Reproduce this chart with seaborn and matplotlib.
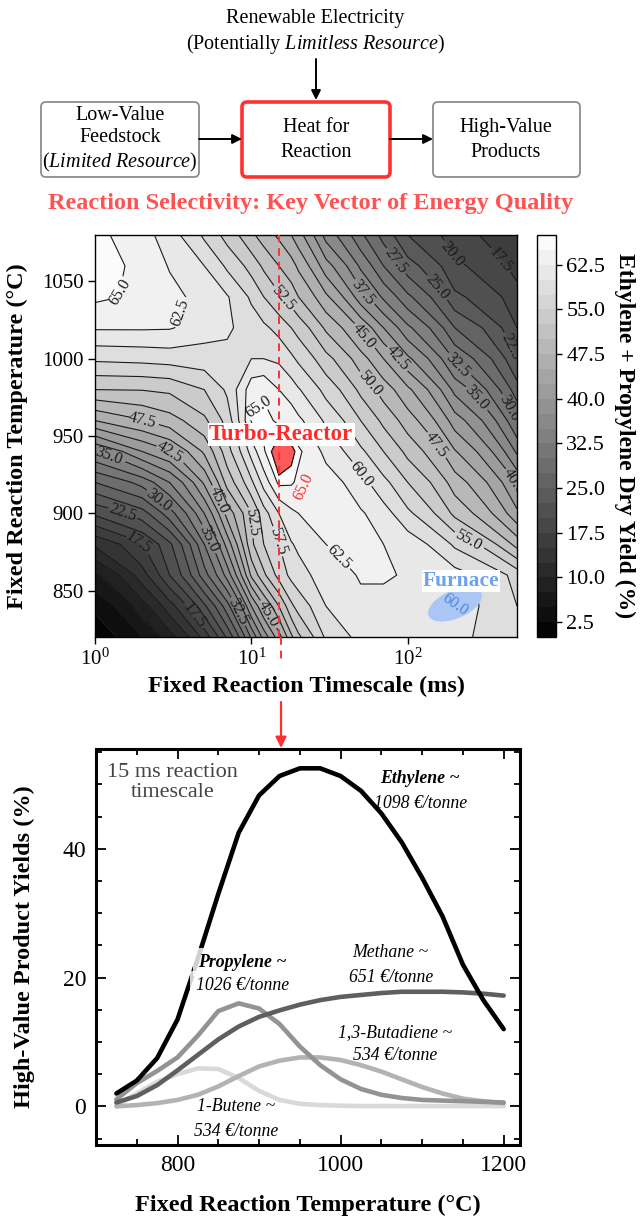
import numpy as np
import pandas as pd
import matplotlib
matplotlib.use("Agg")
import matplotlib.pyplot as plt
import seaborn as sns
from matplotlib.patches import FancyBboxPatch, Ellipse
from matplotlib.ticker import MultipleLocator, FixedLocator, NullLocator

# ---------------- data: contour map (ethylene + propylene dry yield, %) ----------------
timescale_ms = [1, 2, 3, 5, 7, 10, 12, 15, 18, 20, 30, 50, 70, 100, 200, 500]
temperature_c = [820, 840, 860, 880, 900, 920, 940, 960, 980, 1000, 1020, 1040, 1060, 1080]
yield_820 = [1.0, 5.0, 9.0, 16.0, 23.0, 33.0, 38.5, 44.0, 49.5, 52.0, 58.0, 61.0, 61.5, 61.5, 60.5, 58.0]
yield_840 = [3.0, 9.0, 14.0, 22.0, 29.0, 40.0, 45.0, 50.0, 54.5, 56.0, 60.0, 62.0, 62.0, 62.0, 61.0, 57.5]
yield_860 = [7.0, 14.0, 20.0, 29.0, 36.0, 48.0, 52.0, 56.0, 58.2, 59.0, 61.5, 62.7, 62.7, 62.3, 61.0, 56.5]
yield_880 = [13.0, 17.5, 22.0, 32.5, 41.0, 52.0, 55.0, 57.5, 59.8, 60.5, 62.5, 62.8, 62.5, 61.5, 57.0, 49.0]
yield_900 = [20.5, 24.0, 29.0, 37.5, 46.0, 52.5, 56.5, 60.0, 62.0, 62.5, 63.5, 62.8, 61.0, 58.0, 51.8, 43.0]
yield_920 = [27.5, 31.0, 35.0, 43.0, 51.0, 57.0, 61.0, 65.6, 65.3, 64.5, 63.8, 60.8, 58.2, 55.0, 48.7, 39.5]
yield_940 = [35.0, 40.0, 42.5, 48.0, 54.0, 61.0, 64.8, 67.3, 66.6, 65.4, 61.7, 58.0, 55.0, 51.7, 45.2, 34.5]
yield_960 = [45.0, 47.5, 49.0, 52.0, 56.0, 65.2, 65.6, 64.6, 64.0, 63.0, 59.5, 55.0, 51.8, 48.7, 41.2, 30.0]
yield_980 = [52.5, 52.6, 53.0, 55.0, 58.0, 64.0, 64.6, 62.5, 61.2, 60.2, 56.6, 51.8, 48.8, 45.5, 36.7, 26.0]
yield_1000 = [58.0, 58.3, 58.6, 59.0, 59.5, 60.0, 60.0, 59.5, 58.0, 57.0, 53.3, 48.5, 45.0, 40.5, 32.0, 22.5]
yield_1020 = [62.8, 62.8, 62.7, 61.0, 60.3, 59.0, 58.0, 56.6, 55.0, 54.0, 49.5, 44.5, 40.0, 35.5, 27.5, 20.0]
yield_1040 = [65.5, 64.3, 63.3, 61.3, 60.2, 57.0, 55.0, 52.8, 51.3, 50.0, 45.5, 38.5, 34.5, 30.5, 23.0, 18.5]
yield_1060 = [66.0, 64.2, 62.3, 60.0, 57.0, 54.0, 52.0, 50.0, 48.5, 47.0, 41.0, 34.5, 30.0, 26.0, 20.5, 16.5]
yield_1080 = [65.5, 63.5, 61.0, 57.0, 54.0, 50.5, 48.8, 47.0, 45.0, 43.5, 36.5, 30.5, 26.5, 22.5, 18.5, 15.0]
colorbar_ticks = [2.5, 10.0, 17.5, 25.0, 32.5, 40.0, 47.5, 55.0, 62.5]
selected_timescale_ms = 15

# ---------------- data: product yields at 15 ms ----------------
temps_15ms = [725, 750, 775, 800, 825, 850, 875, 900, 925, 950, 975, 1000,
              1025, 1050, 1075, 1100, 1125, 1150, 1175, 1200]
ethylene = [2.0, 4.0, 7.5, 13.5, 23.0, 33.0, 42.5, 48.3, 51.3, 52.5, 52.5, 51.3,
            49.0, 45.5, 41.0, 35.5, 29.5, 22.0, 16.5, 12.0]
propylene = [1.1, 3.6, 5.5, 7.6, 11.0, 14.8, 16.0, 15.2, 12.8, 9.3, 6.4, 4.2,
             2.7, 1.8, 1.3, 1.0, 0.9, 0.8, 0.7, 0.6]
methane = [0.6, 1.6, 3.3, 5.6, 8.0, 10.4, 12.4, 13.9, 14.9, 15.8, 16.5, 17.0,
           17.3, 17.6, 17.8, 17.8, 17.8, 17.7, 17.5, 17.2]
butadiene = [0.0, 0.2, 0.5, 1.0, 1.8, 3.1, 4.7, 6.2, 7.1, 7.6, 7.6, 7.2,
             6.4, 5.4, 4.2, 3.0, 2.0, 1.2, 0.8, 0.5]
butene = [0.2, 2.0, 3.8, 5.0, 5.9, 5.8, 4.4, 2.4, 1.0, 0.4, 0.2, 0.1,
          0.05, 0.05, 0.05, 0.05, 0.05, 0.05, 0.05, 0.05]
products = ["1-Butene", "1,3-Butadiene", "Propylene", "Methane", "Ethylene"]
product_colors = ["#d9d9d9", "#b3b3b3", "#939393", "#5f5f5f", "#000000"]
product_prices = ["534 €/tonne", "534 €/tonne", "1026 €/tonne", "651 €/tonne", "1098 €/tonne"]

# ---------------- style ----------------
sns.set_theme(style="ticks")
plt.rcParams['font.family'] = ['Liberation Serif', 'DejaVu Serif']
plt.rcParams['mathtext.fontset'] = 'custom'
plt.rcParams['mathtext.rm'] = 'Liberation Serif'
plt.rcParams['mathtext.it'] = 'Liberation Serif:italic'
plt.rcParams['mathtext.bf'] = 'Liberation Serif:bold'
for k in ['text.color', 'axes.labelcolor', 'xtick.color', 'ytick.color', 'axes.edgecolor']:
    plt.rcParams[k] = 'black'

W, H = 642, 1217
fig = plt.figure(figsize=(W / 100, H / 100), dpi=100)


def frac(x0, y0, x1, y1):
    return [x0 / W, 1 - y1 / H, (x1 - x0) / W, (y1 - y0) / H]


ax = fig.add_axes(frac(95, 235, 517, 637))
cax = fig.add_axes(frac(537, 235, 556, 637))
ax2 = fig.add_axes(frac(96, 749, 520, 1145))
ov = fig.add_axes([0, 0, 1, 1])
ov.set_xlim(0, W)
ov.set_ylim(H, 0)
ov.axis('off')
ov.patch.set_alpha(0)

# ---------------- contour map ----------------
X, Y = np.meshgrid(timescale_ms, temperature_c)
Z = np.array([yield_820, yield_840, yield_860, yield_880, yield_900, yield_920, yield_940,
              yield_960, yield_980, yield_1000, yield_1020, yield_1040, yield_1060, yield_1080])
levels = np.arange(0, 67.6, 2.5)
cf = ax.contourf(X, Y, Z, levels=levels, cmap='gray')
cs = ax.contour(X, Y, Z, levels=levels[1:-1], colors='k', linewidths=0.8)
ax.set_xscale('log')
ax.set_xlim(1, 500)
ax.set_ylim(820, 1080)
label_spots = [(1.47, 1043), (3.32, 1031), (15.2, 1037), (53.6, 1044), (81, 1062),
               (158, 1047), (210, 1070), (415, 1066), (461, 1008), (50, 1013),
               (86, 1000), (56, 983), (210, 996), (265, 973), (446, 968), (156, 945),
               (11.3, 968), (2.0, 960), (3.1, 941), (1.23, 938), (2.58, 909),
               (1.49, 900), (6.3, 909), (9.8, 894), (15.9, 883), (5.2, 883),
               (1.92, 883), (50, 925), (246, 883), (43, 879), (459, 919),
               (2.1, 835), (4.3, 834), (8.0, 836), (12.5, 834)]
ax.clabel(cs, fmt='%.1f', fontsize=11.5, inline=True, inline_spacing=2, manual=label_spots)
ax.contourf(X, Y, Z, levels=[66.0, 70], colors=['#ff5a5a'])
ax.contour(X, Y, Z, levels=[66.0], colors='k', linewidths=0.9)
ax.set_yticks([850, 900, 950, 1000, 1050])
ax.xaxis.set_major_locator(FixedLocator([1, 10, 100]))
ax.xaxis.set_minor_locator(NullLocator())
ax.tick_params(axis='both', which='major', direction='out', length=5, width=1,
               labelsize=15, pad=3)
for s in ax.spines.values():
    s.set_linewidth(1.0)
ax.set_xlabel('Fixed Reaction Timescale (ms)', fontsize=17.5, fontweight='bold', va='center')
ax.xaxis.set_label_coords(0.5, -0.122)
ax.set_ylabel('Fixed Reaction Temperature (°C)', fontsize=17.5, fontweight='bold', va='center')
ax.yaxis.set_label_coords(-0.183, 0.5)

ax.axvline(selected_timescale_ms, color='#ff3030', ls=(0, (4, 3)), lw=1.4, zorder=5)
ax.text(15.5, 951, 'Turbo-Reactor', color='#ff2a2a', fontsize=16.3, fontweight='bold',
        ha='center', va='center', zorder=6,
        bbox=dict(facecolor='white', edgecolor='none', pad=1.0))
ax.text(21.5, 917, '65.0', color='#ff2a2a', fontsize=11.5, rotation=65,
        ha='center', va='center', zorder=6)
ax.add_patch(Ellipse((0.853, 0.081), 0.137, 0.069, angle=25, transform=ax.transAxes,
                     facecolor='#a9c6f4', edgecolor='none', zorder=6))
ax.text(0.853, 0.081, '60.0', transform=ax.transAxes, color='#4f86e0', fontsize=11.5,
        rotation=-35, ha='center', va='center', zorder=7)
ax.text(219, 856, 'Furnace', color='#6ea2ef', fontsize=15.5, fontweight='bold',
        ha='center', va='center', zorder=7,
        bbox=dict(facecolor='white', edgecolor='none', pad=0.8))

cb = fig.colorbar(cf, cax=cax, ticks=colorbar_ticks)
cb.ax.set_yticklabels([f'{t:.1f}' for t in colorbar_ticks])
cb.ax.tick_params(labelsize=16, length=4, width=1)
cb.outline.set_linewidth(1.0)
cb.set_label('Ethylene + Propylene Dry Yield (%)', fontsize=17, fontweight='bold',
             rotation=270, va='center')
cb.ax.yaxis.set_label_coords(4.6, 0.5)

# ---------------- product yield lines ----------------
df = pd.DataFrame({
    'Temperature': temps_15ms * 5,
    'Yield': butene + butadiene + propylene + methane + ethylene,
    'Product': sum([[p] * len(temps_15ms) for p in products], []),
})
sns.lineplot(data=df, x='Temperature', y='Yield', hue='Product', hue_order=products,
             palette=dict(zip(products, product_colors)), linewidth=3.3, legend=False,
             ax=ax2, sort=False)
ax2.set_xlim(700, 1220)
ax2.set_ylim(-6, 55.5)
ax2.xaxis.set_major_locator(FixedLocator([800, 1000, 1200]))
ax2.xaxis.set_minor_locator(MultipleLocator(50))
ax2.yaxis.set_major_locator(FixedLocator([0, 20, 40]))
ax2.yaxis.set_minor_locator(MultipleLocator(5))
ax2.tick_params(which='both', direction='in', top=True, right=True, width=1.3)
ax2.tick_params(which='major', length=7, labelsize=17, pad=7)
ax2.tick_params(which='minor', length=4)
for s in ax2.spines.values():
    s.set_linewidth(2.2)
ax2.set_xlabel('Fixed Reaction Temperature (°C)', fontsize=17.5, fontweight='bold', va='center')
ax2.xaxis.set_label_coords(0.5, -0.152)
ax2.set_ylabel('High-Value Product Yields (%)', fontsize=17.5, fontweight='bold', va='center')
ax2.yaxis.set_label_coords(-0.17, 0.5)

ax2.text(0.18, 0.915, '15 ms reaction\ntimescale', transform=ax2.transAxes, fontsize=16,
         color='#444444', ha='center', va='center', linespacing=1.1)

notes = {
    "Ethylene": (0.765, 0.925, 0.862, True, False),
    "Propylene": (0.345, 0.462, 0.404, True, True),
    "Methane": (0.695, 0.485, 0.424, False, False),
    "1,3-Butadiene": (0.705, 0.285, 0.227, False, False),
    "1-Butene": (0.33, 0.096, 0.033, False, False),
}
for prod, price in zip(products, product_prices):
    nx, ny, py, bold, box = notes[prod]
    bb = dict(facecolor='white', edgecolor='none', alpha=0.82, pad=4) if box else None
    ax2.text(nx, ny, prod + ' ~', transform=ax2.transAxes, fontsize=12.8, ha='center',
             va='center', fontstyle='italic', fontweight='bold' if bold else 'normal',
             bbox=bb, zorder=4)
    ax2.text(nx, py, price, transform=ax2.transAxes, fontsize=12.8, ha='center',
             va='center', fontstyle='italic', bbox=bb, zorder=4)

# ---------------- diagram on top ----------------
ov.text(315, 18, 'Renewable Electricity', fontsize=14.5, ha='center', va='center')
ov.text(316, 44, r'(Potentially $\mathit{Limitless\ Resource}$)', fontsize=14.5,
        ha='center', va='center')
arrow_kw = dict(arrowstyle='-|>', color='black', lw=1.4, mutation_scale=14,
                shrinkA=0, shrinkB=0)
ov.annotate('', xy=(316, 100), xytext=(316, 59), arrowprops=arrow_kw)
boxes = [(41, 199, '#8c8c8c', 1.3), (242, 390, '#ff3030', 2.6), (433, 580, '#8c8c8c', 1.3)]
for x0, x1, ec, lw in boxes:
    ov.add_patch(FancyBboxPatch((x0, 102), x1 - x0, 75,
                                boxstyle='round,pad=0,rounding_size=5',
                                facecolor='white', edgecolor=ec, linewidth=lw))
ov.annotate('', xy=(242, 139), xytext=(199, 139), arrowprops=arrow_kw)
ov.annotate('', xy=(433, 139), xytext=(390, 139), arrowprops=arrow_kw)
ov.text(120, 140, 'Low-Value\nFeedstock\n($\\mathit{Limited\\ Resource}$)', fontsize=14.5,
        ha='center', va='center', linespacing=1.2)
ov.text(316, 140, 'Heat for\nReaction', fontsize=14.5, ha='center', va='center',
        linespacing=1.4)
ov.text(506, 140, 'High-Value\nProducts', fontsize=14.5, ha='center', va='center',
        linespacing=1.4)
ov.text(311, 203, 'Reaction Selectivity: Key Vector of Energy Quality', fontsize=17.5,
        fontweight='bold', color='#ff5252', ha='center', va='center')

ov.plot([281, 281], [637, 662], color='#ff3030', ls=(0, (4, 3)), lw=1.4)
ov.annotate('', xy=(281, 748), xytext=(281, 702),
            arrowprops=dict(arrowstyle='-|>', color='#ff3030', lw=1.6, mutation_scale=16,
                            shrinkA=0, shrinkB=0))

fig.savefig('out.png', dpi=100)
